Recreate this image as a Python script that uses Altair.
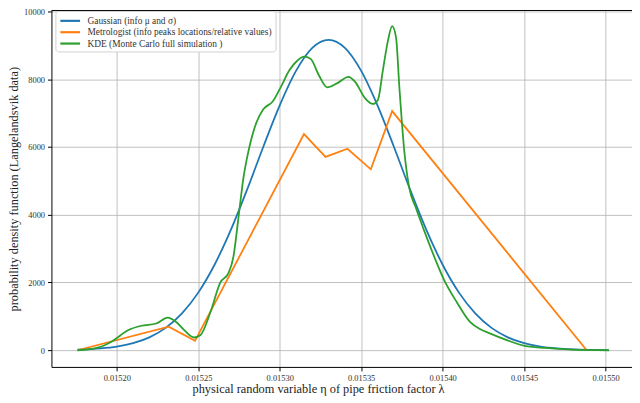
import altair as alt
import pandas as pd

series_names = [
    "Gaussian (info μ and σ)",
    "Metrologist (info peaks locations/relative values)",
    "KDE (Monte Carlo full simulation )",
]
colors = ["#1f77b4", "#ff7f0e", "#2ca02c"]

x_ticks = [0.01520, 0.01525, 0.01530, 0.01535, 0.01540, 0.01545, 0.01550]
y_ticks = [0, 2000, 4000, 6000, 8000, 10000]

gauss_x = [0.015176, 0.015190, 0.015200, 0.015210, 0.015220, 0.015230, 0.015240,
           0.015250, 0.015260, 0.015270, 0.015280, 0.015290, 0.015300, 0.015310,
           0.015320, 0.015330, 0.015340, 0.015350, 0.015360, 0.015370, 0.015380,
           0.015390, 0.015400, 0.015410, 0.015420, 0.015430, 0.015440, 0.015450,
           0.015460, 0.015470, 0.015480, 0.015490, 0.015502]
gauss_y = [18, 53, 107, 208, 380, 660, 1088, 1701, 2524, 3553, 4745, 6015, 7227, 8245,
           8923, 9160, 8923, 8245, 7227, 6015, 4745, 3553, 2524, 1701, 1088, 660, 380,
           208, 107, 53, 25, 11, 4]

metro_x = [0.0151758, 0.0152319, 0.0152480, 0.0153149, 0.0153281, 0.0153416,
           0.0153559, 0.0153690, 0.0154884]
metro_y = [0, 694, 278, 6382, 5708, 5948, 5341, 7059, 0]

kde_x = [0.0151758, 0.0151889, 0.0151970, 0.0152071, 0.0152151, 0.0152242, 0.0152313,
         0.0152363, 0.0152414, 0.0152474, 0.0152514, 0.0152575, 0.0152635, 0.0152686,
         0.0152716, 0.0152747, 0.0152777, 0.0152807, 0.0152857, 0.0152898, 0.0152958,
         0.0153008, 0.0153059, 0.0153109, 0.0153149, 0.0153190, 0.0153240, 0.0153291,
         0.0153351, 0.0153422, 0.0153462, 0.0153523, 0.0153573, 0.0153603, 0.0153633,
         0.0153664, 0.0153690, 0.0153714, 0.0153734, 0.0153765, 0.0153795, 0.0153835,
         0.0153886, 0.0153956, 0.0154007, 0.0154087, 0.0154168, 0.0154229, 0.0154289,
         0.0154390, 0.0154491, 0.0154632, 0.0154793, 0.0155021]
kde_y = [0, 87, 260, 596, 723, 790, 963, 839, 596, 376, 451, 1128, 1996, 2285,
         2766, 3923, 5080, 5853, 6721, 7106, 7349, 7782, 8263, 8552, 8668, 8601, 8118,
         7762, 7878, 8072, 7927, 7444, 7270, 7395, 8263, 9131, 9565, 9229, 7782, 5853,
         4791, 4212, 3538, 2670, 2092, 1418, 839, 625, 500, 307, 145, 67, 17, 0]

rows = []
for name, xs, ys in zip(series_names, [gauss_x, metro_x, kde_x], [gauss_y, metro_y, kde_y]):
    for i, (xv, yv) in enumerate(zip(xs, ys)):
        rows.append({"series": name, "x": xv, "y": yv, "order": i})
df = pd.DataFrame(rows)

W, H = 588, 361
FONT = "Liberation Serif"

x_enc = alt.X(
    "x:Q",
    scale=alt.Scale(domain=[0.0151599, 0.0155162], nice=False, zero=False),
    axis=alt.Axis(
        values=x_ticks, format=".5f",
        title="physical random variable η of pipe friction factor λ",
        titleX=270, titleY=22, titleBaseline="middle", titleAlign="center",
        titleAnchor="start",
    ),
)
y_enc = alt.Y(
    "y:Q",
    scale=alt.Scale(domain=[-492, 10029], nice=False, zero=False),
    axis=alt.Axis(
        values=y_ticks, format="d",
        title="probability density function (Langelandsvik data)",
        titleX=-38.5, titleY=H / 2, titleBaseline="middle", titleAlign="center",
        titleAngle=-90, titleAnchor="start",
    ),
)
color_enc = alt.Color(
    "series:N",
    scale=alt.Scale(domain=series_names, range=colors),
    legend=alt.Legend(
        title=None, orient="none", legendX=4, legendY=0.5,
        symbolType="M-1,0H3", symbolSize=100, symbolStrokeWidth=2.2,
        labelFont=FONT, labelFontSize=9.5, labelColor="#333333", labelLimit=0,
        labelOffset=16, rowPadding=0.5, padding=3.5,
        fillColor="#ffffff", strokeColor="#d0d0d0", cornerRadius=3,
    ),
)

def layer(name, interp):
    return alt.Chart(df).transform_filter(alt.datum.series == name).mark_line(
        strokeWidth=1.8, interpolate=interp
    ).encode(x=x_enc, y=y_enc, color=color_enc, order="order:Q")

top_spine = alt.Chart(pd.DataFrame({"a": [0]})).mark_rule(color="black", strokeWidth=1).encode(
    x=alt.value(0), x2=alt.value(W), y=alt.value(0)
)

chart = alt.layer(
    layer(series_names[0], "monotone"),
    layer(series_names[1], "linear"),
    layer(series_names[2], "monotone"),
    top_spine,
).properties(
    width=W, height=H,
    autosize=alt.AutoSizeParams(type="none"),
    padding={"left": 44, "top": 0, "right": 0, "bottom": 32},
).configure_view(stroke=None).configure_axis(
    grid=True, gridColor="#b0b0b0", gridWidth=0.8,
    domainColor="black", domainWidth=1, tickColor="black", tickSize=4,
    labelFont=FONT, labelFontSize=8.5, labelColor="#333333", labelPadding=3,
    titleFont=FONT, titleFontSize=12.5, titleFontWeight="normal", titleColor="#222222",
)

chart.save("out.html", embed_options={"renderer": "svg", "actions": False})
